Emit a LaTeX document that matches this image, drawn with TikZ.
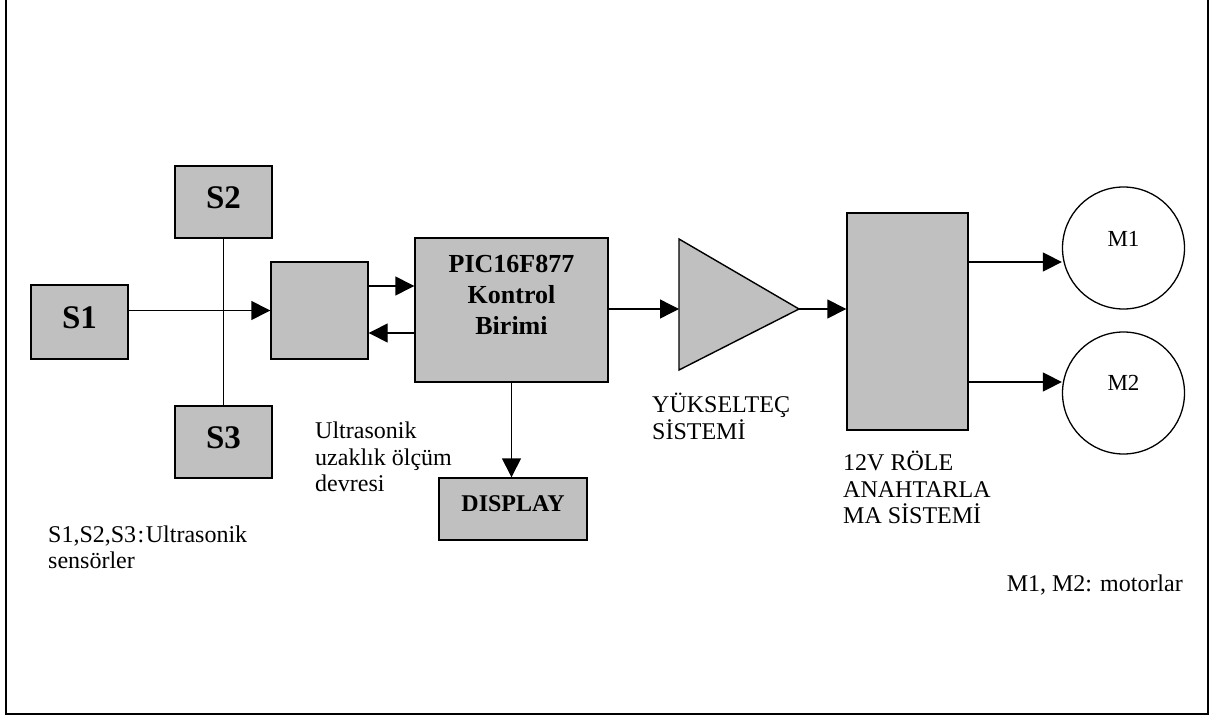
\documentclass[tikz,border=0pt]{standalone}
\usepackage{fontspec}
\setmainfont{Liberation Serif}
\usetikzlibrary{arrows.meta}
\definecolor{boxgray}{HTML}{C0C0C0}
\begin{document}
\begin{tikzpicture}[x=1pt,y=-1pt,
  blk/.style={draw=black,line width=1.4pt,fill=boxgray,inner sep=0pt},
  sblk/.style={blk,font=\bfseries\fontsize{33}{36}\selectfont,text depth=9pt},
  dblk/.style={blk,font=\bfseries\fontsize{24}{28}\selectfont,text depth=10pt},
  motor/.style={draw=black,line width=1.3pt,circle,minimum size=122pt,inner sep=0pt},
  lbl/.style={font=\fontsize{24}{26.5}\selectfont,align=left,inner sep=0pt},
  conn/.style={line width=1.4pt},
  arr/.style={conn,-{Triangle[length=19pt,width=19pt]}}]
\useasboundingbox (0,0) rectangle (1218,722);
% frame
\draw[line width=1.6pt] (6,-5) -- (6,714) -- (1208,714) -- (1208,-5);
% sensors
\node[sblk,minimum width=97pt,minimum height=74pt] (S1) at (79.5,322) {S1};
\node[sblk,minimum width=97pt,minimum height=72pt] (S2) at (223.5,202) {S2};
\node[sblk,minimum width=97pt,minimum height=72pt] (S3) at (223.5,442) {S3};
% ultrasonic measuring circuit
\node[blk,minimum width=97pt,minimum height=97pt] (US) at (319.5,310.5) {};
% PIC
\node[blk,minimum width=193pt,minimum height=144pt] (PIC) at (511.5,310) {};
\node[font=\bfseries\fontsize{26}{31}\selectfont,align=center,inner sep=0pt,anchor=north] (pictxt) at (511.5,255.5) {PIC16F877\\Kontrol\\Birimi};
% display
\node[dblk,minimum width=148pt,minimum height=62pt] (DISP) at (513,509) {DISPLAY};
% amplifier triangle
\coordinate (ampT) at (679,239);
\coordinate (ampB) at (679,370);
\coordinate (ampin) at (679,309);
\coordinate (ampout) at (799,309);
\draw[line width=1.4pt,fill=boxgray] (ampT) -- (ampout) -- (ampB) -- cycle;
% relay
\node[blk,minimum width=121pt,minimum height=217pt] (REL) at (907.5,321.5) {};
% motors
\node[motor,label={[font=\fontsize{23}{25}\selectfont,yshift=9pt]center:M1}] (M1) at (1123.5,248) {};
\node[motor,label={[font=\fontsize{23}{25}\selectfont,yshift=10pt]center:M2}] (M2) at (1123.5,393) {};
% connectors
\draw[conn] (S2.south) -- (S3.north);
\draw[arr] (S1.east |- US.west) -- (US.west);
\draw[arr] ([yshift=24.5pt]US.east) -- ([yshift=24.5pt]US.east -| PIC.west);
\draw[arr] ([yshift=-22.5pt]US.east -| PIC.west) -- ([yshift=-22.5pt]US.east);
\draw[arr] (PIC.east |- ampin) -- (ampin);
\draw[arr] (PIC.south) -- (PIC.south |- DISP.north);
\draw[arr] (ampout) -- (ampout -| REL.west);
\draw[arr] ([yshift=-14pt]M1.west -| REL.east) -- ([yshift=-14pt]M1.west);
\draw[arr] ([yshift=11pt]M2.west -| REL.east) -- ([yshift=11pt]M2.west);
% labels
\node[lbl,anchor=north west] (ustxt) at (315,421.8) {Ultrasonik\\uzaklık ölçüm\\devresi};
\node[lbl,anchor=north west] (amptxt) at (652,393) {YÜKSELTEÇ\\SİSTEMİ};
\node[lbl,anchor=north west] (reltxt) at (843,451) {12V RÖLE\\ANAHTARLA\\MA SİSTEMİ};
\node[lbl,anchor=north west] (stxt) at (48,525.6) {S1,S2,S3\kern1.5pt:\kern1.5pt Ultrasonik\\sensörler};
\node[lbl,anchor=base east] (mtxt) at (1183,591) {M1, M2: motorlar};
\end{tikzpicture}
\end{document}
